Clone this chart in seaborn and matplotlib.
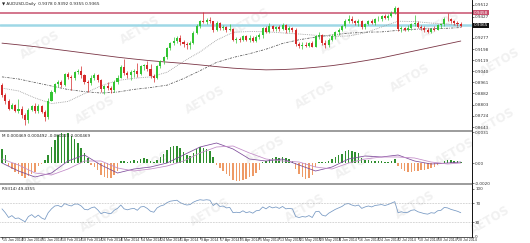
import matplotlib
matplotlib.use("Agg")
import matplotlib.pyplot as plt
import seaborn as sns
import numpy as np
from matplotlib.lines import Line2D
from matplotlib.transforms import blended_transform_factory as blend

# ---------------- data (prices in pips: 8872 -> 0.8872) ----------------
opens = [8940,8872,8825,8772,8800,8760,8770,8730,8690,8762,
         8790,8758,8790,8750,8712,8830,8895,8948,8960,8942,
         9020,9002,8990,9035,9040,9012,8962,8958,8995,9015,
         8975,8912,8935,8920,8910,8962,8995,9070,9025,9012,
         9035,9042,9018,9075,9085,9055,9005,8990,9075,9112,
         9140,9205,9240,9255,9275,9250,9235,9225,9240,9315,
         9365,9395,9390,9405,9398,9330,9385,9345,9355,9330,
         9340,9265,9270,9262,9290,9265,9280,9255,9285,9295,
         9345,9320,9360,9340,9355,9340,9370,9335,9345,9335,
         9232,9218,9230,9222,9240,9215,9290,9300,9240,9228,
         9265,9290,9318,9335,9362,9400,9410,9395,9385,9400,
         9355,9378,9395,9380,9410,9415,9430,9420,9435,9458,
         9490,9340,9350,9335,9345,9375,9380,9355,9345,9330,
         9322,9340,9335,9368,9375,9415,9410,9395,9385,9378]
highs = [8955,8885,8840,8815,8810,8840,8790,8742,8778,8802,
         8812,8805,8800,8765,8848,8908,8955,8975,8978,9030,
         9035,9010,9045,9058,9080,9022,8980,9010,9028,9020,
         8985,8945,8965,8935,8975,9015,9085,9130,9045,9050,
         9055,9100,9085,9095,9110,9090,9020,9085,9120,9150,
         9215,9250,9285,9290,9300,9260,9245,9255,9325,9375,
         9405,9461,9420,9425,9400,9395,9390,9368,9365,9375,
         9345,9285,9285,9300,9295,9300,9290,9295,9310,9355,
         9360,9385,9370,9365,9372,9385,9378,9362,9358,9345,
         9250,9245,9245,9250,9255,9300,9320,9305,9260,9275,
         9305,9325,9345,9370,9410,9443,9430,9405,9410,9405,
         9385,9405,9410,9420,9430,9440,9448,9445,9470,9505,
         9495,9365,9358,9370,9385,9440,9395,9370,9360,9350,
         9350,9365,9375,9385,9425,9455,9420,9405,9400,9392]
lows = [8860,8810,8765,8768,8752,8745,8710,8660,8672,8755,
        8742,8745,8740,8685,8700,8825,8888,8925,8930,8938,
        8985,8910,8980,9020,8990,8950,8890,8945,8980,8960,
        8890,8878,8905,8885,8895,8950,8990,9010,8990,8980,
        9000,9000,9010,9050,9045,8990,8960,8985,9060,9095,
        9130,9190,9230,9240,9230,9215,9195,9200,9235,9305,
        9350,9380,9375,9385,9320,9325,9335,9335,9320,9325,
        9255,9240,9250,9255,9255,9250,9245,9250,9270,9280,
        9310,9315,9325,9325,9325,9330,9315,9320,9320,9220,
        9205,9200,9210,9215,9210,9210,9270,9230,9205,9215,
        9255,9270,9300,9325,9350,9385,9385,9370,9365,9340,
        9340,9370,9375,9370,9395,9400,9410,9405,9425,9445,
        9325,9320,9325,9325,9330,9360,9345,9330,9320,9310,
        9315,9325,9330,9345,9365,9400,9380,9370,9360,9355]
closes = [8872,8825,8772,8800,8760,8770,8730,8690,8762,8790,
          8758,8790,8750,8712,8830,8895,8948,8960,8942,9020,
          9002,8990,9035,9040,9012,8962,8958,8995,9015,8975,
          8912,8935,8920,8910,8962,8995,9070,9025,9012,9035,
          9042,9018,9075,9085,9055,9005,8990,9075,9112,9140,
          9205,9240,9255,9275,9250,9235,9225,9240,9315,9365,
          9395,9390,9405,9398,9330,9385,9345,9355,9330,9340,
          9265,9270,9262,9290,9265,9280,9255,9285,9295,9345,
          9320,9360,9340,9355,9340,9370,9335,9345,9335,9232,
          9218,9230,9222,9240,9215,9290,9300,9240,9228,9265,
          9290,9318,9335,9362,9400,9410,9395,9385,9400,9355,
          9378,9395,9380,9410,9415,9430,9420,9435,9458,9490,
          9340,9350,9335,9345,9375,9380,9355,9345,9330,9322,
          9340,9335,9368,9375,9415,9410,9395,9385,9378,9365]

# moving averages read every 5 bars
ma_bars = [0,5,10,15,20,25,30,35,40,45,50,55,60,65,70,75,80,85,90,95,
           100,105,110,115,120,125,130,135,139]
ma_fast = [8920,8900,8850,8810,8825,8881,8937,8974,8990,9000,9033,9110,9178,
           9261,9317,9323,9321,9313,9305,9296,9288,9291,9313,9355,9396,9394,
           9383,9376,9362]
ma_mid = [9000,8985,8960,8935,8910,8895,8885,8892,8911,8924,8941,8988,9044,
          9103,9138,9165,9197,9238,9264,9283,9299,9311,9318,9320,9331,9339,
          9343,9346,9351]
ma_slow = [9240,9228,9215,9200,9185,9170,9155,9140,9127,9115,9105,9096,9085,
           9073,9062,9055,9050,9052,9058,9068,9080,9096,9115,9135,9160,9185,
           9210,9235,9255]

resistance = 0.9458
support = 0.9368

# MACD (units of 0.0001)
macd_hist = [14,8,-3,-6,-9,-11,-13,-15,-13,-11,
             -9,-3,-1,3,8,16,23,28,30,29,
             30,27,24,20,15,10,5,-2,-4,-7,
             -12,-14,-15,-15,-12,-8,2,2,1,2,
             3,2,4,5,4,2,1,3,6,9,
             13,16,17,17,15,11,8,7,10,14,
             16,15,14,12,6,-2,-5,-8,-11,-13,
             -17,-18,-18,-17,-16,-14,-13,-10,-7,1,
             2,4,5,6,5,6,5,4,2,-6,
             -11,-14,-16,-15,-12,-4,1,1,1,2,
             4,6,8,9,12,13,12,11,10,5,
             3,3,2,2,2,2,1,1,2,4,
             -3,-6,-8,-9,-9,-8,-8,-7,-7,-6,
             -5,-4,-2,-1,2,3,3,2,2,1]
macd_main = [0,-8,-14,-10,2,8,-2,-10,-6,-4,0,8,16,20,14,4,2,4,-2,-8,
             -4,4,7,6,8,2,-1,0,1]
macd_signal = [4,-2,-10,-12,-6,2,2,-5,-8,-6,-3,2,10,16,17,10,4,2,1,-4,
               -6,0,4,6,6,5,1,-1,0]

rsi = [58,50,40,44,38,39,35,31,42,46,
       40,45,39,36,50,58,64,65,62,69,
       66,64,68,68,64,57,56,60,62,56,
       48,51,49,48,55,59,66,58,56,58,
       59,55,62,63,59,53,51,60,64,66,
       71,74,75,76,71,68,66,67,72,75,
       77,76,77,76,65,70,63,64,60,61,
       50,51,50,54,50,52,49,54,55,62,
       58,63,60,62,59,63,58,59,58,42,
       40,42,41,44,40,52,53,45,43,49,
       53,57,60,63,68,69,66,64,66,59,
       62,64,62,65,66,67,65,67,70,73,
       50,52,50,51,55,56,52,50,48,47,
       50,49,54,55,61,60,57,55,53,50]

price_ticks = [0.9512,0.9427,0.9277,0.9198,0.9119,0.9040,0.8961,
               0.8882,0.8803,0.8724,0.8643]
date_bars = list(range(0, 139, 6))
date_labels = ["15 Jan 2014","23 Jan 2014","31 Jan 2014","10 Feb 2014",
               "18 Feb 2014","26 Feb 2014","6 Mar 2014","14 Mar 2014",
               "24 Mar 2014","1 Apr 2014","9 Apr 2014","17 Apr 2014",
               "25 Apr 2014","5 May 2014","13 May 2014","21 May 2014",
               "29 May 2014","6 Jun 2014","16 Jun 2014","24 Jun 2014",
               "2 Jul 2014","10 Jul 2014","18 Jul 2014","28 Jul 2014"]

# ---------------- figure ----------------
sns.set_style("white")
plt.rcParams['font.family'] = ['DejaVu Sans']
NARROW = ['Liberation Sans Narrow', 'Liberation Sans', 'DejaVu Sans']

W, H = 530, 243
RX = 472
fig = plt.figure(figsize=(W / 100, H / 100), dpi=100)
fig.patch.set_facecolor('white')

GREEN = '#33C433'
RED = '#D42A2A'
TS = 3.0


def axes_px(top, bottom):
    ax = fig.add_axes([0, 1 - bottom / H, RX / W, (bottom - top) / H])
    ax.set_facecolor('none')
    for s in ['left', 'top', 'bottom']:
        ax.spines[s].set_visible(False)
    ax.spines['right'].set_color('#111111')
    ax.spines['right'].set_linewidth(0.6)
    ax.set_xlim(-0.6, 142.4)
    ax.yaxis.tick_right()
    ax.tick_params(axis='y', labelsize=TS, length=1.5, width=0.4, pad=0.8,
                   color='#111111', labelcolor='#333333')
    ax.set_xticks([])
    ax.set_zorder(2)
    return ax


ax1 = axes_px(0, 130)
ax2 = axes_px(132, 183)
ax3 = axes_px(185, 237)

# faint watermark
wm = [(40, 45), (140, 30), (250, 22), (340, 40), (440, 25), (500, 62),
      (95, 110), (205, 100), (315, 95), (410, 78), (495, 122),
      (45, 175), (150, 165), (265, 150), (355, 165), (455, 152),
      (100, 218), (210, 212), (305, 208), (415, 205), (490, 220)]
for (px, py) in wm:
    fig.text(px / W, 1 - py / H, "AETOS", rotation=30, fontsize=8.5,
             fontweight='bold', color='#F1F1F1', ha='center', va='center',
             zorder=1)

# ---- main price panel ----
x = np.arange(len(closes))
o = np.array(opens) / 1e4
h = np.array(highs) / 1e4
l = np.array(lows) / 1e4
c = np.array(closes) / 1e4
up = c >= o
for mask, col in [(up, GREEN), (~up, RED)]:
    ax1.vlines(x[mask], l[mask], h[mask], color=col, lw=0.5, zorder=3)
    body = np.maximum(np.abs(c[mask] - o[mask]), 0.00012)
    ax1.bar(x[mask], body, bottom=np.minimum(o[mask], c[mask]), width=0.62,
            color=col, linewidth=0, zorder=3)

mb = np.array(ma_bars)
sns.lineplot(x=mb, y=np.array(ma_fast) / 1e4, ax=ax1, color='#9A9A9A',
             linewidth=0.6, linestyle=(0, (1, 1.2)), zorder=2)
sns.lineplot(x=mb, y=np.array(ma_mid) / 1e4, ax=ax1, color='#555555',
             linewidth=0.55, linestyle=(0, (3, 1.5, 1, 1.5)), zorder=2)
sns.lineplot(x=mb, y=np.array(ma_slow) / 1e4, ax=ax1, color='#7A3545',
             linewidth=0.6, zorder=2)

ax1.axhline(resistance, color='#C8506E', lw=1.1, zorder=1)
ax1.axhline(support, color='#9ED8E6', lw=1.8, zorder=1)

ax1.set_ylim(0.8622, 0.9547)
ax1.set_yticks(price_ticks)
ax1.set_yticklabels([f"{v:.4f}" for v in price_ticks])
tr1 = blend(ax1.transAxes, ax1.transData)
ax1.text(1.004, resistance, f"{resistance:.4f}", transform=tr1, fontsize=TS,
         color='white', va='center', ha='left', zorder=5,
         bbox=dict(boxstyle='square,pad=0.12', fc='#C8506E', ec='none'))
ax1.text(1.004, support, f"{c[-1]:.4f}", transform=tr1, fontsize=TS,
         color='white', va='center', ha='left', zorder=5,
         bbox=dict(boxstyle='square,pad=0.12', fc='#111111', ec='none'))
ax1.text(0.004, 0.985,
         f"\u25bc AUDUSD,Daily  {o[-1]:.4f} {h[-1]:.4f} {l[-1]:.4f} {c[-1]:.4f}",
         transform=ax1.transAxes, fontsize=TS, color='#222222',
         va='top', ha='left')

# ---- MACD panel ----
hv = np.array(macd_hist) / 1e4
ax2.bar(x[hv >= 0], hv[hv >= 0], width=0.45, color='#2F8F2F', linewidth=0)
ax2.bar(x[hv < 0], hv[hv < 0], width=0.45, color='#EE9A66', linewidth=0)
sns.lineplot(x=mb, y=np.array(macd_main) / 1e4, ax=ax2, color='#7D4A9A',
             linewidth=0.55)
sns.lineplot(x=mb, y=np.array(macd_signal) / 1e4, ax=ax2, color='#C28AC8',
             linewidth=0.55)
ax2.set_ylim(-0.0020, 0.0031)
ax2.set_yticks([0.0031, 0.0, -0.0020])
ax2.set_yticklabels(["0.0031", "0.00", "-0.0020"])
ax2.text(0.004, 0.97, "M 0.000469 0.000492 -0.000023 0.000469",
         transform=ax2.transAxes, fontsize=TS, color='#222222',
         va='top', ha='left')

# ---- RSI panel ----
sns.lineplot(x=x, y=rsi, ax=ax3, color='#7497C2', linewidth=0.55)
ax3.axhline(70, color='#999999', lw=0.45, ls=(0, (1, 1.5)))
ax3.axhline(30, color='#999999', lw=0.45, ls=(0, (1, 1.5)))
ax3.set_ylim(-0.6, 107.7)
ax3.set_yticks([100, 70, 30, 0])
ax3.set_yticklabels(["100", "70", "30", "0"])
ax3.text(0.004, 0.97, "RSI(14) 49.4355", transform=ax3.transAxes,
         fontsize=TS, color='#222222', va='top', ha='left')

for ax in (ax1, ax2, ax3):
    ax.set_xlabel('')
    ax.set_ylabel('')
    ax.set_xlim(-0.6, 142.4)

# date labels
tr3 = blend(ax3.transData, fig.transFigure)
for b, lab in zip(date_bars, date_labels):
    ax3.text(b + 0.2, 1 - 240.3 / H, lab, transform=tr3, fontsize=2.6,
             family=NARROW, color='#333333', ha='left', va='center',
             clip_on=False)
    fig.add_artist(Line2D([(b + 0.6) * 3.3 / W] * 2,
                          [1 - 237 / H, 1 - 238.5 / H],
                          transform=fig.transFigure, color='#111111', lw=0.4))

# separators and frame lines
for yy in (131, 184):
    fig.add_artist(Line2D([0, RX / W], [1 - yy / H] * 2,
                          transform=fig.transFigure, color='#9C9C9C', lw=1.4,
                          zorder=3))
fig.add_artist(Line2D([RX / W] * 2, [1 - 237 / H, 1.0],
                      transform=fig.transFigure, color='#111111', lw=0.6,
                      zorder=3))
fig.add_artist(Line2D([0, RX / W], [1 - 237.3 / H] * 2,
                      transform=fig.transFigure, color='#111111', lw=0.5,
                      zorder=3))

fig.savefig("out.png", dpi=100, facecolor='white')
